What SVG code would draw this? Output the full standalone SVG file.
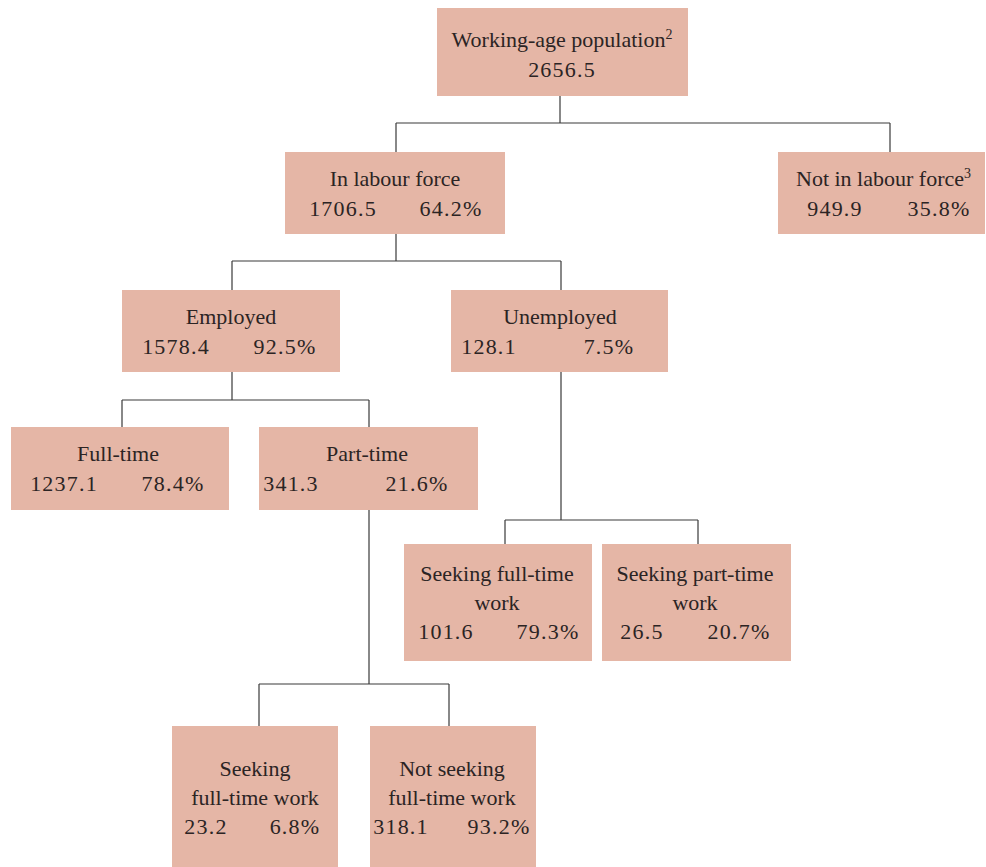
<svg xmlns="http://www.w3.org/2000/svg" width="986" height="867" viewBox="0 0 986 867">
<style>
.box{fill:#E5B6A6;}
text{font-family:"Liberation Serif","Times New Roman",serif;font-size:22px;fill:#2b2424;text-anchor:middle;}
.n{letter-spacing:1.2px;}
.sup{font-size:14px;}
.c{fill:none;stroke:#3a3a3a;stroke-width:1.2;}
</style>
<rect width="986" height="867" fill="#ffffff"/>
<g id="connectors">
<path class="c" d="M560,96V123M396,123H890M396,123V152M890,123V152"/>
<path class="c" d="M396,234V261M232,261H561M232,261V290M561,261V290"/>
<path class="c" d="M232,372V400M122,400H369M122,400V427M369,400V427"/>
<path class="c" d="M561,372V520M505,520H698M505,520V544M698,520V544"/>
<path class="c" d="M369,510V684M259,684H449M259,684V726M449,684V726"/>
</g>
<g id="working-age">
<rect class="box" x="437" y="8" width="251" height="88"/>
<text x="562" y="47">Working-age population<tspan class="sup" dy="-8">2</tspan></text>
<text class="n" x="562" y="77">2656.5</text>
</g>
<g id="in-labour-force">
<rect class="box" x="285" y="152" width="220" height="82"/>
<text x="395" y="186">In labour force</text>
<text class="n" x="343" y="216">1706.5</text>
<text class="n" x="451" y="216">64.2%</text>
</g>
<g id="not-in-labour-force">
<rect class="box" x="778" y="152" width="207" height="82"/>
<text x="796" y="186" style="text-anchor:start">Not in labour force<tspan class="sup" dy="-8">3</tspan></text>
<text class="n" x="835" y="216">949.9</text>
<text class="n" x="939" y="216">35.8%</text>
</g>
<g id="employed">
<rect class="box" x="122" y="290" width="218" height="82"/>
<text x="231" y="324">Employed</text>
<text class="n" x="176" y="354">1578.4</text>
<text class="n" x="285" y="354">92.5%</text>
</g>
<g id="unemployed">
<rect class="box" x="451" y="290" width="217" height="82"/>
<text x="560" y="324">Unemployed</text>
<text class="n" x="489" y="354">128.1</text>
<text class="n" x="609" y="354">7.5%</text>
</g>
<g id="full-time">
<rect class="box" x="11" y="427" width="218" height="83"/>
<text x="118" y="461">Full-time</text>
<text class="n" x="64" y="491">1237.1</text>
<text class="n" x="173" y="491">78.4%</text>
</g>
<g id="part-time">
<rect class="box" x="259" y="427" width="219" height="83"/>
<text x="367" y="461">Part-time</text>
<text class="n" x="291" y="491">341.3</text>
<text class="n" x="417" y="491">21.6%</text>
</g>
<g id="unemp-seeking-full-time">
<rect class="box" x="404" y="544" width="188" height="117"/>
<text x="497" y="581">Seeking full-time</text>
<text x="497" y="610">work</text>
<text class="n" x="446" y="639">101.6</text>
<text class="n" x="548" y="639">79.3%</text>
</g>
<g id="unemp-seeking-part-time">
<rect class="box" x="602" y="544" width="189" height="117"/>
<text x="695" y="581">Seeking part-time</text>
<text x="695" y="610">work</text>
<text class="n" x="642" y="639">26.5</text>
<text class="n" x="739" y="639">20.7%</text>
</g>
<g id="pt-seeking-full-time">
<rect class="box" x="172" y="726" width="166" height="141"/>
<text x="255" y="776">Seeking</text>
<text x="255" y="805">full-time work</text>
<text class="n" x="206" y="834">23.2</text>
<text class="n" x="295" y="834">6.8%</text>
</g>
<g id="pt-not-seeking-full-time">
<rect class="box" x="370" y="726" width="166" height="141"/>
<text x="452" y="776">Not seeking</text>
<text x="452" y="805">full-time work</text>
<text class="n" x="401" y="834">318.1</text>
<text class="n" x="499" y="834">93.2%</text>
</g>
</svg>
